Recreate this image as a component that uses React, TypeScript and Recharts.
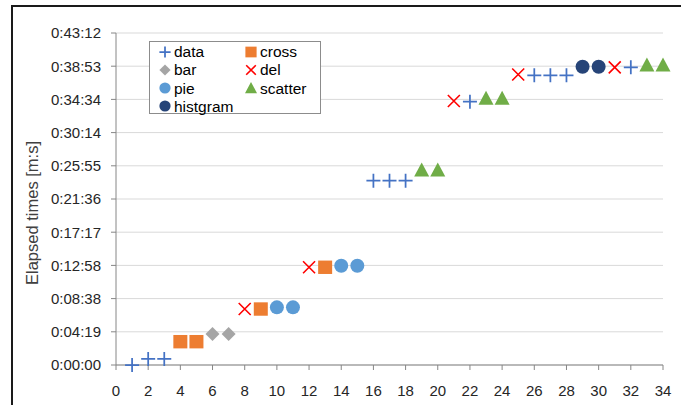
import React from 'react'
import {
  ScatterChart, Scatter, XAxis, YAxis, CartesianGrid,
} from 'recharts'

// ── Data (y values in seconds) ───────────────────────────────────────────────
const dataX = [1, 2, 3, 16, 17, 18, 22, 26, 27, 28, 32]
const dataY = [0, 47, 47, 1439, 1439, 1439, 2056, 2262, 2262, 2262, 2324]
const crossX = [4, 5, 9, 13]
const crossY = [182, 182, 437, 763]
const barX = [6, 7]
const barY = [242, 242]
const delX = [8, 12, 21, 25, 31]
const delY = [437, 763, 2061, 2268, 2324]
const pieX = [10, 11, 14, 15]
const pieY = [450, 450, 775, 775]
const scatterX = [19, 20, 23, 24, 33, 34]
const scatterY = [1522, 1522, 2082, 2082, 2342, 2342]
const histX = [29, 30]
const histY = [2329, 2329]

const xTicks = [0, 2, 4, 6, 8, 10, 12, 14, 16, 18, 20, 22, 24, 26, 28, 30, 32, 34]
const yTicks = [0, 259.2, 518.4, 777.6, 1036.8, 1296, 1555.2, 1814.4, 2073.6, 2332.8, 2592]

const zip = (xs: number[], ys: number[]) => xs.map((x, i) => ({ x, y: ys[i] }))

const FONT = '"Liberation Sans", Arial, sans-serif'
const TICK_STYLE = { fontSize: 15, fill: '#262626', fontFamily: FONT }

function fmtTime(s: number) {
  const t = Math.round(s)
  const h = Math.floor(t / 3600)
  const m = Math.floor((t % 3600) / 60)
  const sec = t % 60
  return `${h}:${String(m).padStart(2, '0')}:${String(sec).padStart(2, '0')}`
}

// ── Marker shapes ────────────────────────────────────────────────────────────
type Kind = 'plus' | 'square' | 'diamond' | 'x' | 'circle' | 'triangle'

function Marker({ kind, cx, cy, color, s = 1 }: { kind: Kind; cx: number; cy: number; color: string; s?: number }) {
  switch (kind) {
    case 'plus':
      return <path d={`M${cx - 7 * s},${cy}H${cx + 7 * s}M${cx},${cy - 7 * s}V${cy + 7 * s}`} stroke={color} strokeWidth={1.75} fill="none" />
    case 'x':
      return <path d={`M${cx - 6 * s},${cy - 6 * s}L${cx + 6 * s},${cy + 6 * s}M${cx + 6 * s},${cy - 6 * s}L${cx - 6 * s},${cy + 6 * s}`} stroke={color} strokeWidth={1.6} fill="none" />
    case 'square':
      return <rect x={cx - 7 * s} y={cy - 6.7 * s} width={14 * s} height={13.4 * s} fill={color} />
    case 'diamond':
      return <polygon points={`${cx},${cy - 7 * s} ${cx + 7 * s},${cy} ${cx},${cy + 7 * s} ${cx - 7 * s},${cy}`} fill={color} />
    case 'circle':
      return <circle cx={cx} cy={cy} r={7 * s} fill={color} />
    case 'triangle':
      return <polygon points={`${cx},${cy - 7.5 * s} ${cx + 7.5 * s},${cy + 6.5 * s} ${cx - 7.5 * s},${cy + 6.5 * s}`} fill={color} />
  }
}

const SERIES: { name: string; kind: Kind; color: string; data: { x: number; y: number }[] }[] = [
  { name: 'data', kind: 'plus', color: '#4472C4', data: zip(dataX, dataY) },
  { name: 'cross', kind: 'square', color: '#ED7D31', data: zip(crossX, crossY) },
  { name: 'bar', kind: 'diamond', color: '#A5A5A5', data: zip(barX, barY) },
  { name: 'del', kind: 'x', color: '#FF0000', data: zip(delX, delY) },
  { name: 'pie', kind: 'circle', color: '#5B9BD5', data: zip(pieX, pieY) },
  { name: 'scatter', kind: 'triangle', color: '#70AD47', data: zip(scatterX, scatterY) },
  { name: 'histgram', kind: 'circle', color: '#264478', data: zip(histX, histY) },
]

// ── Legend ───────────────────────────────────────────────────────────────────
function LegendBox() {
  return (
    <div style={{
      position: 'absolute', left: 149, top: 41, width: 170, height: 71, border: '1px solid #8c8c8c',
      background: '#fff', fontFamily: FONT, fontSize: 15.5, color: '#000',
    }}>
      {SERIES.map((s, i) => {
        const col = i % 2
        const row = Math.floor(i / 2)
        return (
          <div key={s.name} style={{
            position: 'absolute', left: col ? 93 : 7, top: row * 18.3,
            height: 19, display: 'flex', alignItems: 'center', whiteSpace: 'nowrap',
          }}>
            <svg width={16} height={16} style={{ marginRight: 1 }}>
              <Marker kind={s.kind} cx={8} cy={8} color={s.color} s={0.8} />
            </svg>
            <span style={{ lineHeight: '19px' }}>{s.name}</span>
          </div>
        )
      })}
    </div>
  )
}

// y-axis title, drawn a bit below the plot's centre as in the original
function YTitle() {
  return (
    <text
      x={32} y={213} transform="rotate(-90 32 213)" textAnchor="middle" dominantBaseline="central"
      style={{ fontSize: 16.5, fill: '#404040', fontFamily: FONT }}
    >
      Elapsed times [m:s]
    </text>
  )
}

export default function App() {
  return (
    <div style={{ position: 'fixed', left: 0, top: 0, width: 681, height: 405, overflow: 'hidden', background: '#fff' }}>
      <div style={{ position: 'absolute', left: 11, top: 5, width: 760, height: 500, border: '2px solid #1a1a1a' }} />
      <div style={{ position: 'absolute', left: 0, top: 0 }}>
        <ScatterChart width={681} height={405} margin={{ top: 33, right: 18, bottom: 10, left: 0 }}>
          <CartesianGrid vertical={false} stroke="#d9d9d9" />
          <XAxis
            type="number" dataKey="x" domain={[0, 34]} ticks={xTicks} interval={0}
            tick={TICK_STYLE} tickSize={5} tickMargin={15}
            axisLine={{ stroke: '#868686' }} tickLine={{ stroke: '#868686' }} height={30}
          />
          <YAxis
            type="number" dataKey="y" domain={[0, 2592]} ticks={yTicks} interval={0}
            tickFormatter={fmtTime} tick={TICK_STYLE} tickSize={5} tickMargin={10}
            axisLine={{ stroke: '#868686' }} tickLine={{ stroke: '#868686' }} width={116}
            label={<YTitle />}
          />
          {SERIES.map((s) => (
            <Scatter
              key={s.name} name={s.name} data={s.data} isAnimationActive={false}
              shape={(p: any) => <Marker kind={s.kind} cx={p.cx} cy={p.cy} color={s.color} />}
            />
          ))}
        </ScatterChart>
      </div>
      <LegendBox />
    </div>
  )
}
